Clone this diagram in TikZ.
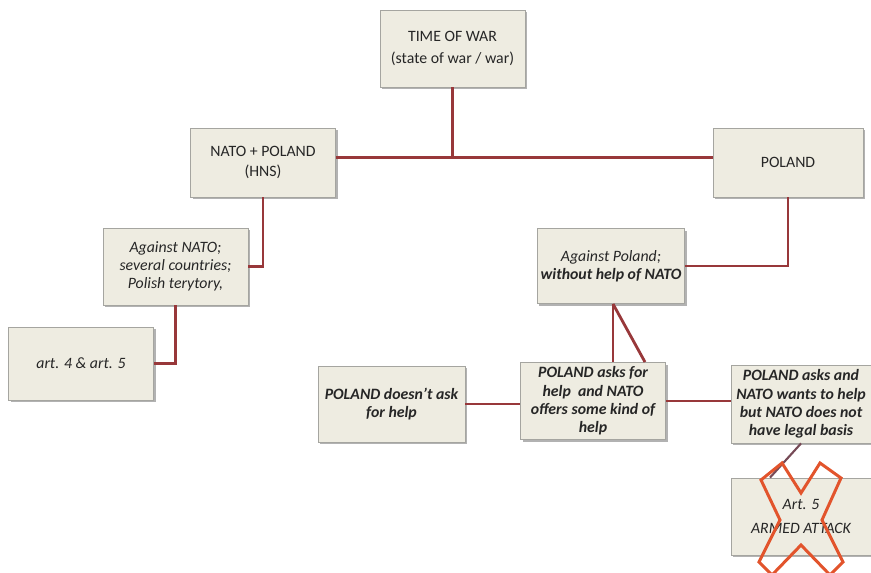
\documentclass[tikz,border=0pt]{standalone}
\usepackage{fontspec}
\setmainfont{Carlito}
\usepackage{tikz,xcolor}
\usetikzlibrary{shadows}

\definecolor{boxfill}{RGB}{238,236,225}
\definecolor{boxline}{RGB}{165,165,160}
\definecolor{linkred}{RGB}{152,56,58}
\definecolor{linkgray}{RGB}{118,74,86}
\definecolor{crossred}{RGB}{226,84,44}

\begin{document}
\begin{tikzpicture}[x=0.02cm, y=-0.02cm,
        box/.style={draw=boxline, fill=boxfill, line width=0.5pt, align=center, inner sep=2pt,
            text=black!85, font=\fontsize{9}{10.4}\selectfont,
            drop shadow={shadow xshift=1.3pt, shadow yshift=-1.3pt, fill=black, opacity=0.3}},
        link/.style={draw=linkred, line width=1.6pt},
        ital/.style={font=\fontsize{9}{10.4}\selectfont\itshape},
        bital/.style={font=\fontsize{9}{10.4}\selectfont\bfseries\itshape}]

        \useasboundingbox (0,0) rectangle (871,573);

        \node[box, minimum width=2.9cm, minimum height=1.54cm, font=\fontsize{9}{13}\selectfont] (war) at (452.5,48.5) {TIME OF WAR\\(state of war / war)};
        \node[box, minimum width=2.9cm, minimum height=1.38cm, font=\fontsize{9}{11.5}\selectfont] (natopl) at (263,162.5) {NATO + POLAND\\(HNS)};
        \node[box, minimum width=3.0cm, minimum height=1.38cm] (poland) at (788,162.5) {POLAND};

        \node[box, ital, minimum width=2.9cm, minimum height=1.54cm] (againstnato) at (175.5,266.5) {Against NATO;\\several countries;\\Polish terytory,};
        \node[box, ital, minimum width=2.9cm, minimum height=1.46cm] (art) at (81,363.5) {art. 4 \& art. 5};
        \node[box, ital, minimum width=2.9cm, minimum height=1.5cm] (againstpl) at (611,266) {Against Poland;\\\textbf{without help of NATO}};

        \node[box, bital, minimum width=2.94cm, minimum height=1.52cm] (noask) at (391.5,404) {POLAND doesn’t ask\\for help};
        \node[box, bital, minimum width=2.9cm, minimum height=1.54cm] (asks) at (593,401) {POLAND asks for\\help~ and NATO\\offers some kind of\\help};
        \node[box, bital, minimum width=2.8cm, minimum height=1.56cm] (wants) at (801,404) {POLAND asks and\\NATO wants to help\\but NATO does not\\have legal basis};
        \node[box, ital, minimum width=2.8cm, minimum height=1.54cm, font=\fontsize{9}{14}\selectfont\itshape] (attack) at (801,516.5) {Art. 5\\ARMED ATTACK};

        \draw[link] (war.south) -- ([yshift=2.8pt]war.south |- natopl.east);
        \draw[link] ([yshift=2.8pt]natopl.east) -- ([yshift=2.8pt]poland.west);
        \draw[link] (natopl.south) |- (againstnato.east);
        \draw[link] (againstnato.south) |- (art.east);
        \draw[link] (poland.south) |- (againstpl.east);
        \draw[link] ([xshift=0.04cm]againstpl.south) -- ([xshift=0.04cm]againstpl.south |- asks.north);
        \draw[link] ([xshift=0.04cm]againstpl.south) -- ([xshift=1.04cm]asks.north);
        \draw[link] (noask.east) -- (noask.east -| asks.west);
        \draw[link] (asks.east) -- (asks.east -| wants.west);
        \draw[draw=linkgray, line width=1.2pt] (wants.south) -- ([xshift=-0.62cm]attack.north);

        \draw[crossred, line width=1.7pt, line join=miter]
            (761,480) -- (782,463) -- (801,493) -- (820,463) -- (841,478) -- (822,520)
            -- (843,562) -- (830,575) -- (801,545) -- (772,575) -- (759,562) -- (780,520) -- cycle;
    \end{tikzpicture}
\end{document}
